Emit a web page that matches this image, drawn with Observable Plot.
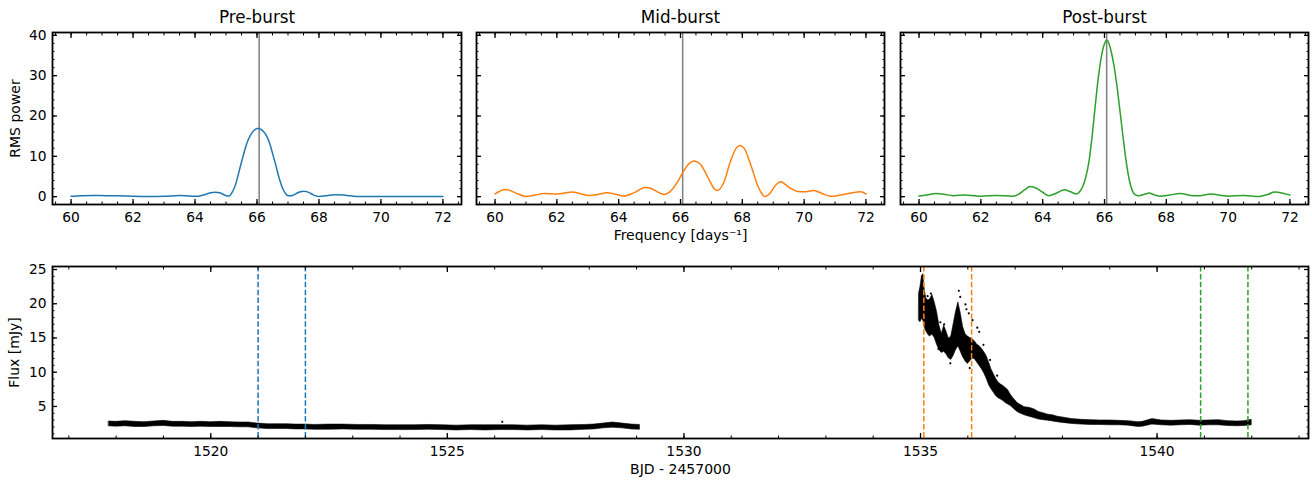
<!DOCTYPE html>
<html><head><meta charset="utf-8">
<script src="https://cdn.jsdelivr.net/npm/d3@7"></script>
<script src="https://cdn.jsdelivr.net/npm/@observablehq/plot@0.6"></script>
<style>
body{margin:0;background:#fff;}
#root{position:relative;width:1312px;height:482px;background:#fff;}
#root svg{position:absolute;left:0;top:0;overflow:visible;}
</style></head><body><div id="root"></div>
<script>
// ---------- Data ----------
const panelTitles = ["Pre-burst", "Mid-burst", "Post-burst"];
const panelColors = ["#1f77b4", "#ff7f0e", "#2ca02c"];
const peakFreq = 66.07;

const preFreq = [60.0,60.3,60.7,61.1,61.5,62.0,62.5,63.0,63.5,63.9,64.1,64.3,64.5,64.65,64.8,64.9,65.0,65.1,65.2,65.3,65.4,65.5,65.6,65.7,65.8,65.9,66.0,66.07,66.1,66.2,66.3,66.4,66.5,66.6,66.7,66.8,66.9,67.0,67.1,67.2,67.3,67.4,67.5,67.6,67.7,67.8,67.9,68.0,68.2,68.4,68.6,68.8,69.0,69.2,69.6,70.0,70.5,71.0,71.5,72.0];
const prePow  = [0.1,0.2,0.3,0.25,0.2,0.1,0.05,0.1,0.3,0.1,0.1,0.5,0.95,1.1,0.95,0.6,0.25,0.15,1.1,2.8,5.6,8.6,11.4,13.8,15.4,16.4,16.9,16.9,16.8,16.2,15.2,13.4,10.8,8.0,5.0,2.6,1.0,0.2,0.2,0.5,0.9,1.2,1.35,1.25,0.95,0.5,0.2,0.05,0.2,0.4,0.5,0.4,0.2,0.05,0.05,0.05,0.05,0.05,0.05,0.05];

const midFreq = [60.0,60.34,60.65,60.99,61.3,61.58,62.01,62.5,63.04,63.3,63.63,63.9,64.17,64.5,64.85,65.03,65.25,65.48,65.62,65.89,66.09,66.25,66.45,66.65,66.92,67.1,67.19,67.4,67.62,67.81,67.92,68.05,68.27,68.48,68.64,68.72,68.91,69.05,69.24,69.51,69.78,69.99,70.31,70.58,70.85,71.07,71.3,71.56,71.83,72.0];
const midPow  = [0.7,1.8,1.0,0.05,0.4,0.8,0.65,1.15,0.3,0.5,1.0,0.6,0.15,1.0,2.3,2.1,1.2,0.55,1.0,3.5,6.2,8.0,8.85,8.0,4.3,1.9,1.5,3.5,8.85,12.1,12.7,12.1,8.0,3.1,0.65,0.05,1.0,2.6,3.7,2.3,1.3,1.2,1.5,0.8,0.1,0.25,0.6,1.0,1.2,0.65];

const postFreq = [60.0,60.3,60.55,60.8,61.1,61.5,61.8,62.0,62.5,63.0,63.2,63.4,63.6,63.8,64.0,64.2,64.45,64.7,64.9,65.1,65.2,65.3,65.4,65.5,65.6,65.7,65.8,65.9,66.0,66.07,66.1,66.2,66.3,66.4,66.5,66.6,66.7,66.8,66.9,67.0,67.1,67.3,67.45,67.6,67.8,68.1,68.45,68.8,69.0,69.45,69.8,70.0,70.5,71.0,71.3,71.5,71.8,72.0];
const postPow  = [0.15,0.5,0.8,0.6,0.25,0.4,0.2,0.1,0.3,0.1,0.5,1.6,2.5,2.1,1.1,0.25,0.9,1.7,1.2,0.65,1.3,2.6,5.0,8.8,15.0,22.5,29.5,34.8,37.9,38.8,38.7,36.5,32.8,27.6,21.3,14.8,8.8,4.2,1.5,0.45,0.25,0.6,0.9,0.5,0.1,0.4,0.8,0.3,0.2,0.65,0.3,0.1,0.3,0.05,0.6,1.15,0.8,0.4];

const freqTicks = [60,62,64,66,68,70,72];
const powTicks = [0,10,20,30,40];

// Light curve: quiescent segment (envelope of the dense point cloud)
const preT  = [1517.85,1518.0,1518.2,1518.4,1518.6,1518.8,1519.0,1519.2,1519.4,1519.6,1519.8,1520.0,1520.2,1520.4,1520.6,1520.8,1521.0,1521.2,1521.4,1521.6,1521.8,1522.0,1522.2,1522.5,1522.8,1523.1,1523.4,1523.7,1524.0,1524.3,1524.6,1524.9,1525.2,1525.5,1525.8,1526.1,1526.4,1526.7,1527.0,1527.3,1527.6,1527.9,1528.1,1528.3,1528.5,1528.7,1528.9,1529.07];
const preLo = [2.1,2.05,2.1,2.0,2.0,2.1,2.15,2.05,2.05,2.0,2.05,2.0,2.0,2.0,1.95,1.95,1.8,1.7,1.7,1.7,1.65,1.65,1.6,1.6,1.65,1.6,1.6,1.55,1.55,1.55,1.6,1.55,1.5,1.55,1.5,1.55,1.55,1.5,1.55,1.5,1.5,1.6,1.65,1.8,1.9,1.8,1.65,1.6];
const preHi = [2.8,2.75,2.85,2.75,2.7,2.8,2.9,2.75,2.75,2.7,2.75,2.7,2.75,2.7,2.65,2.65,2.5,2.4,2.4,2.4,2.35,2.35,2.3,2.35,2.35,2.3,2.3,2.25,2.25,2.25,2.3,2.25,2.2,2.25,2.25,2.25,2.25,2.2,2.25,2.2,2.25,2.3,2.35,2.5,2.65,2.5,2.35,2.3];

// Burst + decline segment
const burstT  = [1534.97,1535.0,1535.03,1535.06,1535.09,1535.12,1535.16,1535.2,1535.25,1535.3,1535.35,1535.4,1535.45,1535.5,1535.55,1535.6,1535.65,1535.7,1535.75,1535.8,1535.85,1535.9,1535.95,1536.0,1536.05,1536.1,1536.15,1536.2,1536.25,1536.3,1536.35,1536.4,1536.45,1536.5,1536.55,1536.6,1536.65,1536.7,1536.75,1536.8,1536.85,1536.9,1536.95,1537.0,1537.05,1537.1,1537.2,1537.3,1537.4,1537.5,1537.6,1537.7,1537.8,1537.9,1538.0,1538.2,1538.4,1538.6,1538.8,1539.0,1539.2,1539.4,1539.6,1539.7,1539.9,1540.1,1540.3,1540.5,1540.7,1540.9,1541.1,1541.3,1541.5,1541.7,1541.85,1542.0];
const burstLo = [17.5,17.3,17.8,17.5,16.5,16.0,15.5,15.2,15.5,15.0,14.0,13.2,12.8,13.0,12.6,12.0,11.8,12.4,13.2,13.8,13.0,12.2,11.6,11.2,11.6,12.0,11.9,11.4,10.9,10.4,9.8,9.0,8.1,7.5,7.0,6.5,6.2,6.0,5.8,5.5,5.3,5.1,4.8,4.5,4.2,4.0,3.7,3.5,3.3,3.1,3.0,2.9,2.8,2.7,2.6,2.45,2.35,2.3,2.3,2.25,2.25,2.2,2.0,2.05,2.35,2.25,2.2,2.25,2.3,2.2,2.25,2.25,2.15,2.1,2.15,2.25];
const burstHi = [21.5,22.5,24.0,24.3,22.0,20.8,20.5,20.6,21.3,20.2,18.8,16.8,15.6,16.8,15.9,14.9,15.2,17.0,18.8,20.2,18.6,16.6,15.6,15.2,15.0,14.8,14.5,14.0,13.8,13.4,12.9,12.3,11.4,10.4,9.7,9.0,8.5,8.2,8.0,7.7,7.4,6.8,6.3,5.9,5.5,5.3,4.9,4.8,4.6,4.2,4.0,3.8,3.7,3.5,3.4,3.15,3.05,3.0,2.95,2.95,2.9,2.85,2.7,2.75,3.15,2.95,2.9,2.95,3.0,2.9,2.95,3.0,2.85,2.8,2.85,3.05];

// Isolated points scattered around the band
const outT = [1526.16,1535.04,1535.15,1535.22,1535.38,1535.42,1535.5,1535.63,1535.81,1535.84,1535.95,1535.97,1536.02,1536.04,1536.1,1536.2,1536.24,1536.33,1536.47,1536.62];
const outF = [2.75,24.0,21.1,21.5,13.4,17.3,17.0,11.3,21.9,21.0,19.9,19.2,18.6,10.6,17.6,16.5,15.9,14.0,11.8,9.5];

// Analysed windows (start, end) per epoch
const windowStart = [1521.0, 1535.07, 1540.92];
const windowEnd   = [1522.0, 1536.08, 1541.92];

const timeTicks = [1520,1525,1530,1535,1540];
const fluxTicks = [5,10,15,20,25];

// ---------- Layout ----------
const W = 1312, H = 482;
const font = "DejaVu Sans";
const tickFS = 13.8;
const root = document.getElementById("root");
const fmt = d => String(d);

function frameAxes(xMajor, xMinor, yMajor, yMinor, showXLabels, showYLabels) {
  const none = () => "";
  const out = [];
  out.push(Plot.axisX(xMajor, {anchor: "bottom", tickSize: -5, tickFormat: none, label: null, strokeWidth: 1.3}));
  out.push(Plot.axisX(xMajor, {anchor: "top", tickSize: -5, tickFormat: none, label: null, strokeWidth: 1.3}));
  out.push(Plot.axisX(xMinor, {anchor: "bottom", tickSize: -2.5, tickFormat: none, label: null, strokeWidth: 1}));
  out.push(Plot.axisX(xMinor, {anchor: "top", tickSize: -2.5, tickFormat: none, label: null, strokeWidth: 1}));
  out.push(Plot.axisY(yMajor, {anchor: "left", tickSize: -5, tickFormat: none, label: null, strokeWidth: 1.3}));
  out.push(Plot.axisY(yMajor, {anchor: "right", tickSize: -5, tickFormat: none, label: null, strokeWidth: 1.3}));
  out.push(Plot.axisY(yMinor, {anchor: "left", tickSize: -2.5, tickFormat: none, label: null, strokeWidth: 1}));
  out.push(Plot.axisY(yMinor, {anchor: "right", tickSize: -2.5, tickFormat: none, label: null, strokeWidth: 1}));
  if (showXLabels) out.push(Plot.axisX(xMajor, {anchor: "bottom", tickSize: 0, tickPadding: 7.5, label: null, fontSize: tickFS, fill: "black", tickFormat: fmt}));
  if (showYLabels) out.push(Plot.axisY(yMajor, {anchor: "left", tickSize: 0, tickPadding: 6, label: null, fontSize: tickFS, fill: "black", tickFormat: fmt}));
  out.push(Plot.frame({stroke: "black", strokeWidth: 1.8}));
  return out;
}

const topFrames = [[52, 461], [476, 884], [900, 1308]];
const spectra = [[preFreq, prePow], [midFreq, midPow], [postFreq, postPow]];
const freqMinor = d3.range(59.5, 72.6, 0.5);
const powMinor = d3.range(0, 41, 2);

spectra.forEach(([f, p], i) => {
  const rows = f.map((d, j) => ({f: d, p: p[j]}));
  const [x0, x1] = topFrames[i];
  const marks = [
    Plot.ruleX([peakFreq], {x: d => d, stroke: "#7f7f7f", strokeWidth: 1.5}),
    Plot.line(rows, {x: "f", y: "p", stroke: panelColors[i], strokeWidth: 1.5, curve: "monotone-x"}),
    ...frameAxes(freqTicks, freqMinor, powTicks, powMinor, true, i === 0),
    Plot.text([panelTitles[i]], {text: d => d, frameAnchor: "top", dy: -9.5, lineAnchor: "bottom", fontSize: 16.8, fill: "black"})
  ];
  if (i === 0) marks.push(Plot.text(["RMS power"], {text: d => d, frameAnchor: "left", dx: -37, rotate: -90, lineAnchor: "middle", textAnchor: "middle", fontSize: 14, fill: "black"}));
  if (i === 1) marks.push(Plot.text(["Frequency [days\u207B\u00B9]"], {text: d => d, frameAnchor: "bottom", dy: 26, lineAnchor: "top", fontSize: 14, fill: "black"}));
  const svg = Plot.plot({
    width: W, height: H,
    marginLeft: x0, marginRight: W - x1, marginTop: 32, marginBottom: H - 204,
    style: {background: "transparent", fontFamily: font, fontSize: tickFS + "px", color: "black", overflow: "visible"},
    x: {domain: [59.4, 72.6]},
    y: {domain: [-1.94, 40.7]},
    marks
  });
  root.appendChild(svg);
});

// Bottom light-curve panel
{
  const preRows = preT.map((t, j) => ({t, lo: preLo[j], hi: preHi[j]}));
  const burstRows = burstT.map((t, j) => ({t, lo: burstLo[j], hi: burstHi[j]}));
  const outRows = outT.map((t, j) => ({t, f: outF[j]}));
  const winRows = [];
  windowStart.forEach((s, i) => { winRows.push({t: s, c: panelColors[i]}); winRows.push({t: windowEnd[i], c: panelColors[i]}); });
  const marks = [
    Plot.areaY(preRows, {x: "t", y1: "lo", y2: "hi", fill: "black", stroke: "black", strokeWidth: 0.6, curve: "linear"}),
    Plot.areaY(burstRows, {x: "t", y1: "lo", y2: "hi", fill: "black", stroke: "black", strokeWidth: 0.6, curve: "linear"}),
    Plot.dot(outRows, {x: "t", y: "f", r: 1.1, fill: "black"}),
    Plot.ruleX(winRows, {x: "t", stroke: d => d.c, strokeWidth: 1.5, strokeDasharray: "5.5,2.4"}),
    ...frameAxes(timeTicks, d3.range(1517, 1544, 1), fluxTicks, d3.range(1, 26, 1), true, true),
    Plot.text(["Flux [mJy]"], {text: d => d, frameAnchor: "left", dx: -38, rotate: -90, lineAnchor: "middle", textAnchor: "middle", fontSize: 14, fill: "black"}),
    Plot.text(["BJD - 2457000"], {text: d => d, frameAnchor: "bottom", dy: 25.5, lineAnchor: "top", fontSize: 14, fill: "black"})
  ];
  const svg = Plot.plot({
    width: W, height: H,
    marginLeft: 52, marginRight: W - 1308, marginTop: 266, marginBottom: H - 438,
    style: {background: "transparent", fontFamily: font, fontSize: tickFS + "px", color: "black", overflow: "visible"},
    x: {domain: [1516.655, 1543.2]},
    y: {domain: [0.32, 25.44]},
    color: {type: "identity"},
    marks
  });
  root.appendChild(svg);
}
</script></body></html>
